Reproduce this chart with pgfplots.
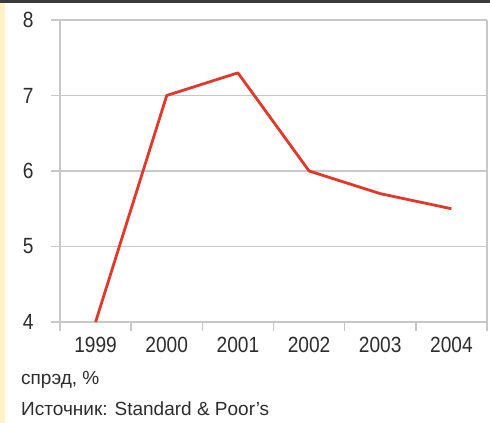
\documentclass[border=0pt]{standalone}
\usepackage{fontspec}
\setmainfont{Liberation Sans}
\newfontfamily\tickfont{Liberation Sans}[FakeStretch=0.87]
\usepackage{pgfplots}
\pgfplotsset{compat=1.18}
\definecolor{spreadred}{RGB}{224,57,43}
\definecolor{gridgray}{RGB}{200,200,200}
\definecolor{stripyellow}{RGB}{255,242,196}
\definecolor{topbar}{RGB}{60,60,60}
\definecolor{inkgray}{RGB}{45,45,45}
\begin{document}
\begin{tikzpicture}[x=1pt,y=1pt]
\path[use as bounding box] (0,0) rectangle (490,423);
\fill[white] (0,0) rectangle (490,423);
\fill[stripyellow] (0,0) rectangle (4.5,423);
\fill[topbar] (0,419.5) rectangle (490,423);
\begin{axis}[
  at={(60pt,101pt)}, anchor=south west,
  scale only axis, width=427pt, height=302pt,
  xmin=-0.5, xmax=5.5, ymin=4, ymax=8,
  axis line style={draw=none},
  /pgf/number format/assume math mode=true,
  tick pos=left,
  % boundary ticks between the years
  xtick={-0.5,0.5,1.5,2.5,3.5,4.5,5.5},
  xticklabels={},
  x tick style={gridgray, line width=1.5pt},
  xtick align=outside,
  % year labels centred on the data points
  extra x ticks={0,1,2,3,4,5},
  extra x tick labels={1999,2000,2001,2002,2003,2004},
  extra x tick style={major tick length=0pt, xticklabel style={anchor=north, yshift=-12pt}},
  ytick={4,5,6,7,8},
  y tick style={gridgray, line width=1.5pt},
  ytick align=outside,
  major tick length=9pt,
  ymajorgrids,
  grid style={gridgray, line width=1.5pt},
  tick label style={font=\tickfont\fontsize{22}{24}\selectfont, text=inkgray},
  yticklabel style={anchor=east, xshift=-14pt},
  clip=false,
]
\draw[gridgray, line width=1.5pt] (axis cs:-0.5,4) -- (axis cs:-0.5,8);
\draw[gridgray, line width=1.5pt] (axis cs:5.5,4) -- (axis cs:5.5,8);
\addplot[spreadred, line width=2.8pt, line join=round] coordinates {
  (0,4.0) (1,7.0) (2,7.3) (3,6.0) (4,5.7) (5,5.5)
};
\end{axis}
\node[anchor=base west, inner sep=0, font=\fontsize{19}{22}\selectfont, text=inkgray] at (21,38) {спрэд, \%};
\node[anchor=base west, inner sep=0, font=\fontsize{19}{22}\selectfont, text=inkgray] at (21,7) {Источник: Standard \& Poor's};
\end{tikzpicture}
\end{document}
